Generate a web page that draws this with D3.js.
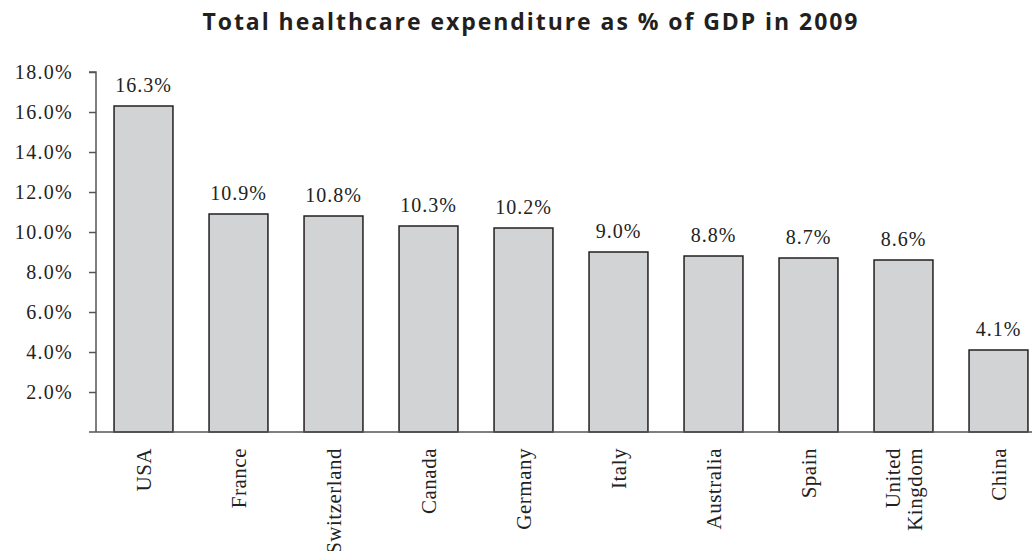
<!DOCTYPE html>
<html>
<head>
<meta charset="utf-8">
<script src="https://cdn.jsdelivr.net/npm/d3@7"></script>
<style>
  body { margin: 0; background: #fff; }
  svg { display: block; }
  .serif { font-family: "Liberation Serif", "DejaVu Serif", serif; fill: #222; }
</style>
</head>
<body>
<div id="chart"></div>
<script>
// data
const countries = ["USA", "France", "Switzerland", "Canada", "Germany", "Italy", "Australia", "Spain", "United Kingdom", "China"];
const spending = [16.3, 10.9, 10.8, 10.3, 10.2, 9.0, 8.8, 8.7, 8.6, 4.1];
const yTicks = [2, 4, 6, 8, 10, 12, 14, 16, 18];

const width = 1032, height = 551;
const margin = {top: 72, left: 96, bottom: 119};

const svg = d3.select("#chart").append("svg")
    .attr("width", width)
    .attr("height", height);

const x = d3.scaleBand()
    .domain(countries)
    .range([margin.left, margin.left + 950])
    .paddingInner(0.38)
    .paddingOuter(0.19);

const y = d3.scaleLinear()
    .domain([0, 18])
    .range([height - margin.bottom, margin.top]);

// title
svg.append("text")
    .attr("x", 530)
    .attr("y", 30)
    .attr("text-anchor", "middle")
    .attr("textLength", 655)
    .attr("lengthAdjust", "spacing")
    .style("font-family", "'Open Sans', 'DejaVu Sans', sans-serif")
    .style("font-weight", "bold")
    .style("font-size", "23px")
    .style("fill", "#231f20")
    .text("Total healthcare expenditure as % of GDP in 2009");

// bars
let data = countries.map((c, i) => ({name: c, value: spending[i]}));

svg.append("g").selectAll("rect")
    .data(data)
    .join("rect")
    .attr("x", d => x(d.name))
    .attr("y", d => y(d.value))
    .attr("width", x.bandwidth())
    .attr("height", d => y(0) - y(d.value))
    .style("fill", "#d2d3d5")
    .style("stroke", "#231f20")
    .style("stroke-width", 1.5);

// value labels
svg.append("g").selectAll("text")
    .data(data)
    .join("text")
    .attr("class", "serif")
    .attr("x", d => x(d.name) + x.bandwidth() / 2)
    .attr("y", d => y(d.value) - 14)
    .attr("text-anchor", "middle")
    .style("font-size", "20px")
    .style("letter-spacing", "1px")
    .text(d => d.value.toFixed(1) + "%");

// y axis
let yAxis = svg.append("g")
    .attr("transform", "translate(" + margin.left + ",0)")
    .call(d3.axisLeft(y).tickValues(yTicks).tickSize(7).tickPadding(16)
        .tickFormat(d => d.toFixed(1) + "%"));
yAxis.select(".domain").attr("d", "M-7," + y(18) + "H0V" + y(0))
    .style("stroke", "#555").style("stroke-width", 1.5);
yAxis.selectAll(".tick line").style("stroke", "#555").style("stroke-width", 1.5);
yAxis.selectAll(".tick text")
    .attr("class", "serif")
    .style("font-size", "20px")
    .style("letter-spacing", "1.3px");

// baseline
svg.append("line")
    .attr("x1", margin.left - 7)
    .attr("x2", width)
    .attr("y1", y(0))
    .attr("y2", y(0))
    .style("stroke", "#555")
    .style("stroke-width", 1.5);

// x labels, rotated, long names split on two lines
let xl = svg.append("g").selectAll("text")
    .data(countries)
    .join("text")
    .attr("class", "serif")
    .attr("transform", d => "translate(" + (x(d) + x.bandwidth() / 2) + "," + (y(0) + 16) + ") rotate(-90)")
    .attr("text-anchor", "end")
    .style("font-size", "21px")
    .style("letter-spacing", "0.5px");

xl.each(function(d) {
    let words = d.split(" ");
    let t = d3.select(this);
    words.forEach((w, i) => {
        let off = (i - (words.length - 1) / 2) * 1.05;
        t.append("tspan")
            .attr("x", 0)
            .attr("y", 0)
            .attr("dy", (off + 0.35) + "em")
            .text(w);
    });
});
</script>
</body>
</html>
